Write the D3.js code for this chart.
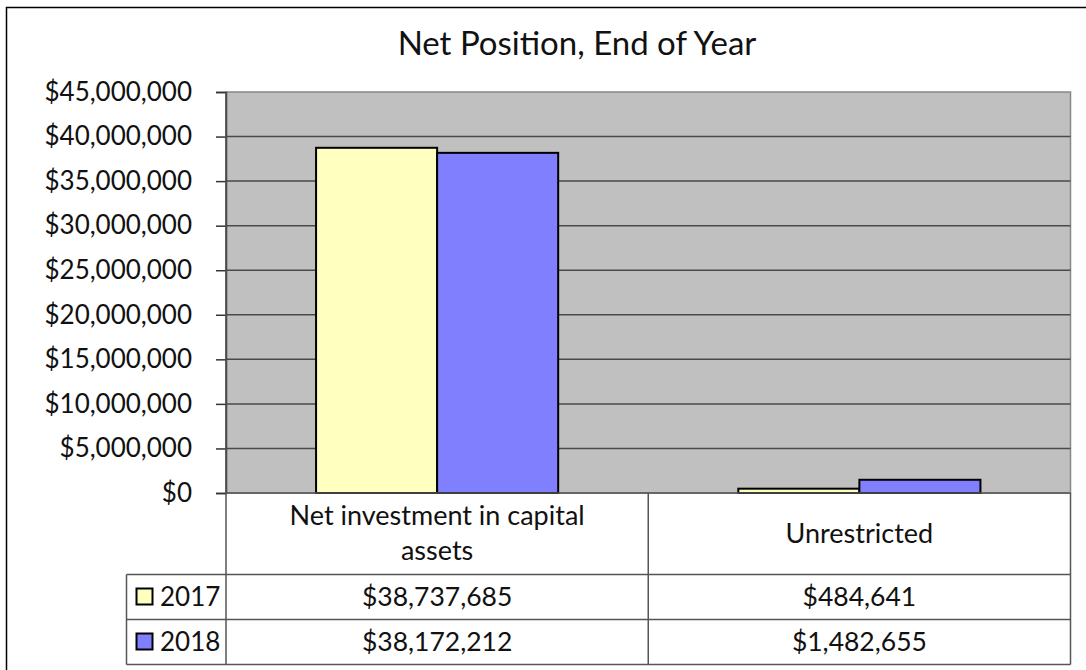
<!DOCTYPE html>
<html>
<head>
<meta charset="utf-8">
<script src="https://cdn.jsdelivr.net/npm/d3@7"></script>
<style>
  body { margin: 0; background: #fff; }
  svg { display: block; }
  text { font-family: Lato, "Open Sans", sans-serif; fill: #111; }
</style>
</head>
<body>
<svg width="1086" height="670"></svg>
<script>
// data
var categories = ["Net investment in capital assets", "Unrestricted"];
var categoryLines = [["Net investment in capital", "assets"], ["Unrestricted"]];
var seriesNames = ["2017", "2018"];
var values2017 = [38737685, 484641];
var values2018 = [38172212, 1482655];
var yTicks = [0, 5000000, 10000000, 15000000, 20000000, 25000000, 30000000, 35000000, 40000000, 45000000];
var colors = ["#ffffc0", "#8080ff"];

var svg = d3.select("svg"),
    width = +svg.attr("width"),
    height = +svg.attr("height");

var plot = {left: 226, right: 1070.5, top: 92, bottom: 493};
var tableLeft = 126.5, rowH = 45, headBottom = 574.5;

var fmt = function(v) { return "$" + d3.format(",")(v); };

// outer frame (right and bottom run off the picture)
svg.append("rect")
    .attr("x", 6.5).attr("y", 7.5)
    .attr("width", width + 20).attr("height", height + 20)
    .attr("fill", "none").attr("stroke", "#000").attr("stroke-width", 1.5);

svg.append("text")
    .attr("x", 577).attr("y", 55)
    .attr("text-anchor", "middle")
    .style("font-size", "33px")
    .text("Net Position, End of Year");

var y = d3.scaleLinear().domain([0, 45000000]).range([plot.bottom, plot.top]);

var x = d3.scaleBand().domain(categories).range([plot.left, plot.right]).padding(0);
var xs = d3.scaleBand().domain(seriesNames).range([0, x.bandwidth()])
    .paddingInner(0).paddingOuter(0.744);

// plot area
svg.append("rect")
    .attr("x", plot.left).attr("y", plot.top)
    .attr("width", plot.right - plot.left).attr("height", plot.bottom - plot.top)
    .attr("fill", "#c0c0c0").attr("stroke", "#888").attr("stroke-width", 1.5);

// gridlines
svg.append("g")
    .selectAll("line")
    .data(yTicks.filter(function(d) { return d > 0 && d < 45000000; }))
    .enter().append("line")
    .attr("x1", plot.left).attr("x2", plot.right)
    .attr("y1", function(d) { return y(d); })
    .attr("y2", function(d) { return y(d); })
    .attr("stroke", "#4a4a4a").attr("stroke-width", 1.5);

// y axis
var yAxis = svg.append("g")
    .attr("transform", "translate(" + plot.left + ",0)")
    .call(d3.axisLeft(y).tickValues(yTicks).tickSize(10).tickPadding(24).tickFormat(fmt));
yAxis.select(".domain").attr("stroke", "#333").attr("stroke-width", 1.5);
yAxis.selectAll(".tick line").attr("stroke", "#333").attr("stroke-width", 1.5);
yAxis.selectAll(".tick text")
    .style("font-size", "26px")
    .style("font-family", "Lato, sans-serif")
    .attr("fill", "#111")
    .attr("dy", "0.32em");

// bars
var rows = categories.map(function(c, i) { return {cat: c, vals: [values2017[i], values2018[i]]}; });
var groups = svg.append("g").selectAll("g")
    .data(rows)
    .enter().append("g")
    .attr("transform", function(d) { return "translate(" + x(d.cat) + ",0)"; });

groups.selectAll("rect")
    .data(function(d) { return d.vals.map(function(v, j) { return {s: seriesNames[j], v: v, j: j}; }); })
    .enter().append("rect")
    .attr("x", function(d) { return xs(d.s); })
    .attr("width", xs.bandwidth())
    .attr("y", function(d) { return y(d.v); })
    .attr("height", function(d) { return y(0) - y(d.v); })
    .attr("fill", function(d) { return colors[d.j]; })
    .attr("stroke", "#000").attr("stroke-width", 2);

// data table
var tbl = svg.append("g").attr("stroke", "#555").attr("stroke-width", 1.5);
var tableBottom = headBottom + rowH * seriesNames.length;
tbl.append("line").attr("x1", plot.left).attr("x2", plot.left).attr("y1", plot.top).attr("y2", tableBottom);
tbl.append("line").attr("x1", plot.right).attr("x2", plot.right).attr("y1", plot.bottom).attr("y2", tableBottom);
tbl.append("line").attr("x1", plot.left).attr("x2", plot.right).attr("y1", plot.bottom).attr("y2", plot.bottom);
tbl.append("line").attr("x1", tableLeft).attr("x2", tableLeft).attr("y1", headBottom).attr("y2", tableBottom);
tbl.selectAll("line.sep")
    .data(categories.slice(1))
    .enter().append("line")
    .attr("x1", function(d) { return x(d); }).attr("x2", function(d) { return x(d); })
    .attr("y1", plot.bottom).attr("y2", tableBottom);
tbl.selectAll("line.row")
    .data(d3.range(seriesNames.length + 1))
    .enter().append("line")
    .attr("x1", tableLeft).attr("x2", plot.right)
    .attr("y1", function(i) { return headBottom + i * rowH; })
    .attr("y2", function(i) { return headBottom + i * rowH; });

// category header
var headMid = (plot.bottom + headBottom) / 2;
categories.forEach(function(c, i) {
    var lines = categoryLines[i];
    var lh = 35;
    var t = svg.append("text")
        .attr("text-anchor", "middle")
        .style("font-size", "27px");
    lines.forEach(function(l, k) {
        t.append("tspan")
            .attr("x", x(c) + x.bandwidth() / 2)
            .attr("y", headMid + 9 + (k - (lines.length - 1) / 2) * lh)
            .text(l);
    });
});

// series rows
var series = [values2017, values2018];
seriesNames.forEach(function(s, j) {
    var rowMid = headBottom + j * rowH + rowH / 2;
    svg.append("rect")
        .attr("x", 136.5).attr("y", rowMid - 8.5)
        .attr("width", 16).attr("height", 16)
        .attr("fill", colors[j]).attr("stroke", "#000").attr("stroke-width", 2);
    svg.append("text")
        .attr("x", 160).attr("y", rowMid + 9)
        .style("font-size", "26px")
        .text(s);
    categories.forEach(function(c, i) {
        svg.append("text")
            .attr("x", x(c) + x.bandwidth() / 2)
            .attr("y", rowMid + 9)
            .attr("text-anchor", "middle")
            .style("font-size", "26.5px")
            .text(fmt(series[j][i]));
    });
});
</script>
</body>
</html>
